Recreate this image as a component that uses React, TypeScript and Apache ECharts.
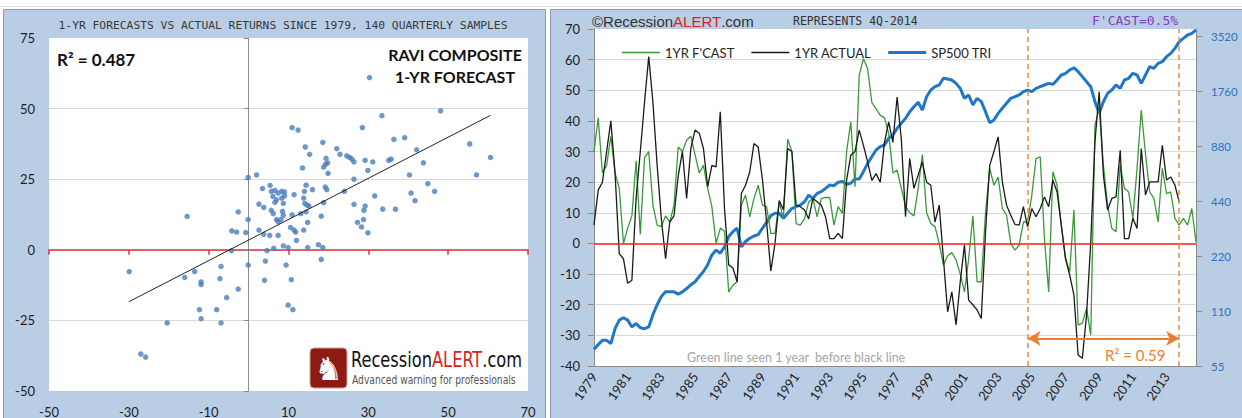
import React, { useEffect, useRef } from 'react';
import * as echarts from 'echarts';

// ---------- DATA ----------
const years: number[] = [];
for (let y = 1979; y <= 2014; y++) years.push(y);
const quarters: string[] = [];
years.forEach((y) => ['Q1', 'Q2', 'Q3', 'Q4'].forEach((q) => quarters.push(`${y} ${q}`)));

// 1-year forecast (green), quarterly 1979Q1..2014Q4
const forecast1yr: number[] = [
  30, 41, 23, 25.5, 35, 23, 18, 0, 5, 9,
  27, 3, 28, 30, 12.5, 6, 5.5, 9, 7, 12.5,
  31.5, 30, 33.7, 35, 29, 23, 25.5, 18, 12, 0,
  5, 4, -15.8, -13.6, -12.5, 12.5, 15.8, 8.7, 14.7, 19,
  12.5, 12, 3.3, 3.3, 13.6, 8.2, 34, 30, 6.5, 6,
  8, 13.6, 14.7, 8.7, 14.7, 15, 15, 6, 12, 9.8,
  30, 39.7, 18.5, 55, 60.3, 57, 46, 44, 41.8, 41,
  36, 23, 24, 18, 12, 10, 9, 18, 29, 10,
  6.5, 5.5, 0, -7, -4, -3, -5.4, -10, -15.8, -5,
  9, -12.5, -12.5, 10, 24.5, 19, 21.7, 11.4, 9.2, 0,
  -2.2, -0.5, 7, 7, 15.8, 27.7, 28.3, 1.6, -15.8, 23.4,
  19, 6, -4.9, -9.2, 10.9, -26.6, -26, -21.2, -29.9, 38.6,
  44, 25.5, 12.5, 4.9, 3.8, 25.5, 18, 16.8, 8.2, 24.5,
  43.5, 29.3, 16.8, 14.7, 7, 24.5, 16.3, 16.8, 8.2, 6,
  8.2, 6, 11.4, 0.5,
];

// 1-year actual return (black), quarterly 1979Q1..2013Q4
const actual1yr: number[] = [
  6, 17.4, 20, 30, 40, 23, -3.3, -5, -13, -12,
  14.7, 30, 46, 61, 46, 25.5, 8, -5, 7, 9,
  22, 30, 14.7, 31, 37, 36, 31, 18.5, 25.5, 25,
  43, 11.4, -7, -8, -12.5, 16.3, 19, 23.4, 32.6, 31.5,
  21, 7, -9, 0, 14, 11, 31, 30, 12.5, 12,
  10.9, 8, 14.7, 13.6, 12.5, 8.7, 1.6, 1.6, 3.3, 1.6,
  20.6, 28.8, 30, 37, 32, 26.6, 20.6, 22.8, 20, 33,
  39.7, 33, 47.8, 34, 8.7, 27.7, 18, 22.3, 26.6, 20,
  19, 7, 12.5, -5, -22.3, -15.8, -26.6, -12.5, -0.5, -18.5,
  -20, -21.7, -24.5, 3.8, 25.5, 30, 34.8, 20.1, 12.5, 9.2,
  6.2, 6, 12, 5.4, 11.4, 8.7, 11.4, 15.2, 12, 20.7,
  16.8, 6, -4.9, -10.3, -16.8, -36.4, -37.5, -23.4, 0.5, 33.2,
  49.5, 22.3, 10.9, 14.7, 15.2, 30.4, 1.6, 1.6, 8.2, 4.9,
  31, 15.8, 20.1, 20.1, 20.1, 32, 20.7, 21.7, 19, 13.6,
];

// S&P 500 total return index (blue, right log axis)
const sp500Tri: number[] = [
  68, 72, 76, 76, 73, 88, 98, 101, 98, 90,
  94, 89, 88, 90, 105, 119, 132, 140, 140, 140,
  136, 140, 146, 153, 159, 170, 181, 197, 223, 237,
  228, 247, 281, 299, 312, 247, 264, 275, 283, 288,
  312, 336, 366, 377, 377, 354, 377, 400, 410, 418,
  436, 474, 455, 484, 495, 516, 538, 534, 557, 562,
  543, 550, 581, 581, 637, 707, 769, 837, 873, 891,
  969, 1011, 1099, 1171, 1247, 1356, 1444, 1526, 1385, 1638,
  1782, 1859, 1898, 2065, 2048, 2022, 1938, 1820, 1605, 1674,
  1476, 1605, 1538, 1356, 1180, 1221, 1328, 1415, 1507, 1605,
  1638, 1674, 1745, 1782, 1745, 1820, 1859, 1898, 1938, 1914,
  2022, 2153, 2199, 2293, 2361, 2246, 2109, 1980, 1859, 1538,
  1328, 1538, 1709, 1782, 1898, 1820, 2022, 2065, 2199, 2153,
  1938, 2153, 2391, 2342, 2494, 2547, 2713, 2829, 3013, 3277,
  3418, 3565, 3640, 3796,
];

// Scatter: forecast (x) vs actual (y)
const scatterPoints: [number, number][] = [
  [30.3, 61.0], [48.1, 49.2], [33.4, 47.5], [10.9, 43.3], [12.4, 42.4], [28.5, 43.3], [36.4, 39.1], [39.1, 39.7], [18.6, 38.0], [55.4, 37.5],
  [14.2, 36.4], [22.1, 35.8], [15.3, 33.8], [22.9, 33.8], [19.4, 32.4], [19.8, 30.8], [60.6, 32.7], [24.6, 33.3], [25.3, 32.7], [25.9, 32.1],
  [26.4, 31.1], [29.2, 31.7], [31.1, 31.1], [35.1, 31.7], [35.7, 32.1], [42.1, 35.4], [43.8, 30.8], [18.8, 29.3], [19.3, 30.3], [13.5, 29.0],
  [19.9, 27.1], [29.9, 28.1], [40.3, 26.5], [57.1, 26.5], [-0.1, 25.6], [2.0, 26.5], [26.4, 25.0], [44.9, 23.4], [5.4, 22.8], [3.5, 21.7],
  [5.7, 20.7], [6.6, 21.0], [7.4, 20.1], [8.3, 20.7], [9.0, 20.5], [14.4, 22.9], [16.0, 21.3], [19.2, 22.2], [19.6, 21.3], [14.0, 20.7],
  [24.0, 20.7], [11.4, 19.5], [46.6, 20.7], [2.6, 16.2], [3.8, 15.0], [6.1, 18.9], [7.0, 17.7], [8.3, 18.3], [9.0, 19.1], [8.7, 16.4],
  [6.6, 16.8], [13.8, 18.3], [14.1, 16.4], [14.7, 15.8], [15.1, 15.5], [18.8, 16.7], [26.4, 16.1], [31.6, 19.1], [40.7, 20.1], [41.7, 17.4],
  [29.2, 15.5], [28.9, 14.0], [33.6, 14.4], [36.8, 14.4], [-15.4, 11.8], [-2.6, 13.4], [-0.1, 10.7], [5.7, 14.0], [6.2, 12.8], [8.5, 13.6],
  [8.7, 12.2], [7.0, 10.7], [7.4, 10.0], [8.1, 10.7], [10.9, 12.4], [13.1, 12.8], [14.4, 13.4], [18.2, 11.9], [27.3, 9.7], [28.8, 10.7],
  [28.3, 8.1], [29.9, 6.0], [14.8, 9.7], [2.6, 7.0], [-4.2, 6.7], [-3.0, 6.3], [-0.7, 6.1], [5.3, 5.1], [7.4, 5.1], [10.5, 7.9],
  [11.4, 7.0], [11.8, 6.3], [13.8, 7.0], [3.8, 5.5], [12.0, 3.3], [8.7, 1.4], [6.3, 0.5], [9.9, 0.8], [14.8, 0.8], [17.5, 1.8],
  [18.6, 0.8], [4.6, -0.3], [-4.3, -0.3], [18.2, -3.4], [4.2, -4.0], [9.4, -5.4], [-0.1, -5.4], [-6.9, -5.9], [-29.9, -7.7], [-13.5, -7.7],
  [-16.0, -9.8], [-7.2, -10.2], [4.0, -10.8], [10.7, -10.6], [-11.9, -11.4], [-11.9, -12.3], [-2.6, -13.9], [-5.5, -16.9], [-12.3, -21.2], [-8.0, -21.2],
  [9.9, -19.6], [11.1, -21.2], [-11.9, -24.4], [-20.4, -25.9], [-6.9, -25.9], [-27.0, -36.9], [-25.8, -38.0],
];

// Linear trend line endpoints
const trendLine: [number, number][] = [[-30, -18.4], [60.6, 47.6]];

const sp500AxisTicks: number[] = [55, 110, 220, 440, 880, 1760, 3520];
const r2Start = '2004 Q4';
const r2End = '2013 Q4';
const arrowLevel = -31;

// ---------- STYLE ----------
const BLUE_PANEL = '#b9cde5';
const LBL = '#1e1e1e';
const FONT = 'Lato, "Open Sans", sans-serif';
const NARROW = '"Liberation Sans Narrow", "DejaVu Sans Condensed", sans-serif';
const THIN_ICON = 'path://M0,0 L38,0 L38,1.6 L0,1.6 Z';
const THICK_ICON = 'path://M0,0 L38,0 L38,3.2 L0,3.2 Z';

const option: any = {
  animation: false,
  backgroundColor: '#ffffff',
  textStyle: { fontFamily: FONT },
  graphic: [
    { type: 'line', silent: true, z: -20, shape: { x1: 0, y1: 6.5, x2: 1242, y2: 6.5 }, style: { stroke: '#e3e3e3', lineWidth: 1 } },
    { type: 'rect', silent: true, z: -10, shape: { x: 3.5, y: 9.5, width: 542, height: 412 }, style: { fill: BLUE_PANEL, stroke: '#8b9bb0', lineWidth: 1 } },
    { type: 'rect', silent: true, z: -10, shape: { x: 550.5, y: 9.5, width: 695, height: 412 }, style: { fill: BLUE_PANEL, stroke: '#8b9bb0', lineWidth: 1 } },
    // left panel texts
    { type: 'text', silent: true, z: 50, x: 283, y: 25, style: { text: '1-YR FORECASTS VS ACTUAL RETURNS SINCE 1979, 140 QUARTERLY SAMPLES', font: '11.3px "DejaVu Sans Mono", monospace', fill: '#3a3a3a', align: 'center', verticalAlign: 'middle' } },
    { type: 'text', silent: true, z: 50, x: 57, y: 59, style: { text: 'R² = 0.487', font: 'bold 17px Lato, sans-serif', fill: '#111', align: 'left', verticalAlign: 'middle' } },
    { type: 'text', silent: true, z: 50, x: 455, y: 54, style: { text: 'RAVI COMPOSITE', font: 'bold 16px Lato, sans-serif', fill: '#111', align: 'center', verticalAlign: 'middle' } },
    { type: 'text', silent: true, z: 50, x: 455, y: 76.5, style: { text: '1-YR FORECAST', font: 'bold 16px Lato, sans-serif', fill: '#111', align: 'center', verticalAlign: 'middle' } },
    // logo
    { type: 'rect', silent: true, z: 50, shape: { x: 310, y: 348, width: 37, height: 40, r: 4 }, style: { fill: '#8e1a14', stroke: '#c8a0a0', lineWidth: 1 } },
    { type: 'text', silent: true, z: 51, x: 328.5, y: 369, style: { text: '♞', font: '32px "DejaVu Sans", sans-serif', fill: '#ffffff', align: 'center', verticalAlign: 'middle' } },
    {
      type: 'text', silent: true, z: 50, x: 351, y: 359, scaleX: 0.82,
      style: {
        text: '{a|Recession}{b|ALERT}{a|.com}', align: 'left', verticalAlign: 'middle',
        rich: {
          a: { fill: '#111', font: `22px ${NARROW}` },
          b: { fill: '#d8221a', font: `22px ${NARROW}` },
        },
      },
    },
    { type: 'text', silent: true, z: 50, x: 352, y: 380, scaleX: 0.85, style: { text: 'Advanced warning for professionals', font: `12px ${NARROW}`, fill: '#555', align: 'left', verticalAlign: 'middle' } },
    // right panel texts
    {
      type: 'text', silent: true, z: 50, x: 592, y: 21,
      style: {
        text: '{a|©Recession}{b|ALERT}{a|.com}', align: 'left', verticalAlign: 'middle',
        rich: {
          a: { fill: '#333', font: '15px "Liberation Sans", Arial, sans-serif' },
          b: { fill: '#d8221a', font: '15px "Liberation Sans", Arial, sans-serif' },
        },
      },
    },
    { type: 'text', silent: true, z: 50, x: 793, y: 21, style: { text: 'REPRESENTS 4Q-2014', font: '11.5px "DejaVu Sans Mono", monospace', fill: '#333', align: 'left', verticalAlign: 'middle' } },
    { type: 'text', silent: true, z: 50, x: 1092, y: 20, style: { text: "F'CAST=0.5%", font: '13px "DejaVu Sans Mono", monospace', fill: '#8040c0', align: 'left', verticalAlign: 'middle' } },
    { type: 'text', silent: true, z: 50, x: 687, y: 357, style: { text: 'Green line seen 1 year  before black line', font: '12.5px Lato, sans-serif', fill: '#a6a6a6', align: 'left', verticalAlign: 'middle' } },
    { type: 'text', silent: true, z: 50, x: 1105, y: 355, style: { text: 'R² = 0.59', font: '15px Lato, sans-serif', fill: '#ed7d31', align: 'left', verticalAlign: 'middle' } },
  ],
  legend: {
    data: [
      { name: "1YR F'CAST", icon: THIN_ICON },
      { name: '1YR ACTUAL', icon: THIN_ICON },
      { name: 'SP500 TRI', icon: THICK_ICON },
    ],
    left: 617,
    top: 41,
    itemWidth: 38,
    itemHeight: 12,
    itemGap: 17,
    selectedMode: false,
    textStyle: { fontSize: 13, color: LBL, fontFamily: FONT },
  },
  grid: [
    { left: 49, top: 38, width: 479, height: 355, show: true, backgroundColor: '#ffffff', borderWidth: 0 },
    { left: 594, top: 29, width: 602, height: 337, show: true, backgroundColor: '#ffffff', borderWidth: 0 },
  ],
  xAxis: [
    {
      gridIndex: 0, type: 'value', position: 'bottom', min: -50, max: 70, interval: 20,
      axisLine: { show: false, onZero: false }, axisTick: { show: false }, splitLine: { show: false },
      axisLabel: { color: LBL, fontSize: 13, margin: 14 },
    },
    {
      gridIndex: 0, type: 'value', position: 'bottom', min: -50, max: 70, interval: 20,
      axisLine: { show: true, onZero: true, lineStyle: { color: '#d9393b', width: 1.5 } },
      axisTick: { show: true, length: 5, lineStyle: { color: '#d9393b', width: 1.5 } },
      axisLabel: { show: false }, splitLine: { show: false },
    },
    {
      gridIndex: 1, type: 'category', data: quarters, boundaryGap: false, position: 'bottom',
      axisLine: { show: true, onZero: false, lineStyle: { color: '#8c8c8c' } },
      axisTick: { show: false },
      axisLabel: { interval: 7, rotate: 55, margin: 8, fontSize: 13, color: LBL, formatter: (v: string) => v.slice(0, 4) },
      splitLine: { show: false },
    },
  ],
  yAxis: [
    {
      gridIndex: 0, type: 'value', position: 'left', min: -50, max: 75, interval: 25,
      axisLine: { show: false, onZero: false }, axisTick: { show: false },
      axisLabel: { color: LBL, fontSize: 13, margin: 14 },
      splitLine: { show: true, showMinLine: false, showMaxLine: false, lineStyle: { color: '#d9d9d9', width: 1 } },
    },
    {
      gridIndex: 0, type: 'value', position: 'left', min: -50, max: 75, interval: 25,
      axisLine: { show: true, onZero: true, lineStyle: { color: '#8c8c8c', width: 1 } },
      axisTick: { show: true, length: 5, lineStyle: { color: '#8c8c8c' } },
      axisLabel: { show: false }, splitLine: { show: false },
    },
    {
      gridIndex: 1, type: 'value', position: 'left', min: -40, max: 70, interval: 10,
      axisLine: { show: true, onZero: false, lineStyle: { color: '#8c8c8c' } },
      axisTick: { show: true, length: 6, lineStyle: { color: '#8c8c8c' } },
      axisLabel: { color: LBL, fontSize: 13, margin: 14 },
      splitLine: { show: true, showMaxLine: false, lineStyle: { color: '#d9d9d9', width: 1 } },
    },
    {
      gridIndex: 1, type: 'log', logBase: 2, position: 'right', min: 55, max: 3845,
      axisLine: { show: true, onZero: false, lineStyle: { color: '#8c8c8c' } },
      axisTick: { show: true, length: 6, customValues: sp500AxisTicks, lineStyle: { color: '#8c8c8c' } },
      axisLabel: { customValues: sp500AxisTicks, color: '#2f72c0', fontSize: 11.5, margin: 15, formatter: (v: number) => String(Math.round(v)) },
      splitLine: { show: false },
    },
  ],
  series: [
    {
      type: 'scatter', xAxisIndex: 0, yAxisIndex: 0, data: scatterPoints,
      symbolSize: 5.5, itemStyle: { color: '#4a7ebb' }, z: 3,
    },
    {
      type: 'line', xAxisIndex: 0, yAxisIndex: 0, data: trendLine, symbol: 'none',
      lineStyle: { color: '#222', width: 1 }, z: 4,
    },
    {
      type: 'line', name: 'SP500 TRI', xAxisIndex: 2, yAxisIndex: 3, data: sp500Tri, symbol: 'none',
      lineStyle: { color: '#1f77c9', width: 3 }, itemStyle: { color: '#1f77c9' }, z: 2,
    },
    {
      type: 'line', name: "1YR F'CAST", xAxisIndex: 2, yAxisIndex: 2, data: forecast1yr, symbol: 'none',
      lineStyle: { color: '#3a9a3a', width: 1.3 }, itemStyle: { color: '#3a9a3a' }, z: 3,
      markLine: {
        silent: true, symbol: ['none', 'none'], label: { show: false },
        data: [
          { yAxis: 0, lineStyle: { color: '#ff2020', width: 1.5, type: 'solid' } },
          { xAxis: r2Start, lineStyle: { color: '#f0883a', width: 1.5, type: [5, 4] } },
          { xAxis: r2End, lineStyle: { color: '#f0883a', width: 1.5, type: [5, 4] } },
          [
            { coord: [r2Start, arrowLevel], symbol: 'arrow', symbolSize: [11, 13], lineStyle: { color: '#ed7d31', width: 2, type: 'solid' } },
            { coord: [r2End, arrowLevel], symbol: 'arrow', symbolSize: [11, 13] },
          ],
        ],
      },
    },
    {
      type: 'line', name: '1YR ACTUAL', xAxisIndex: 2, yAxisIndex: 2, data: actual1yr, symbol: 'none',
      lineStyle: { color: '#1a1a1a', width: 1.3 }, itemStyle: { color: '#1a1a1a' }, z: 4,
    },
  ],
};

export default function App() {
  const ref = useRef<HTMLDivElement>(null);
  useEffect(() => {
    if (!ref.current) return;
    const chart = echarts.init(ref.current, null, { renderer: 'svg' });
    chart.setOption(option);
    return () => chart.dispose();
  }, []);
  return <div ref={ref} style={{ position: 'fixed', left: 0, top: 0, width: 1242, height: 418 }} />;
}
